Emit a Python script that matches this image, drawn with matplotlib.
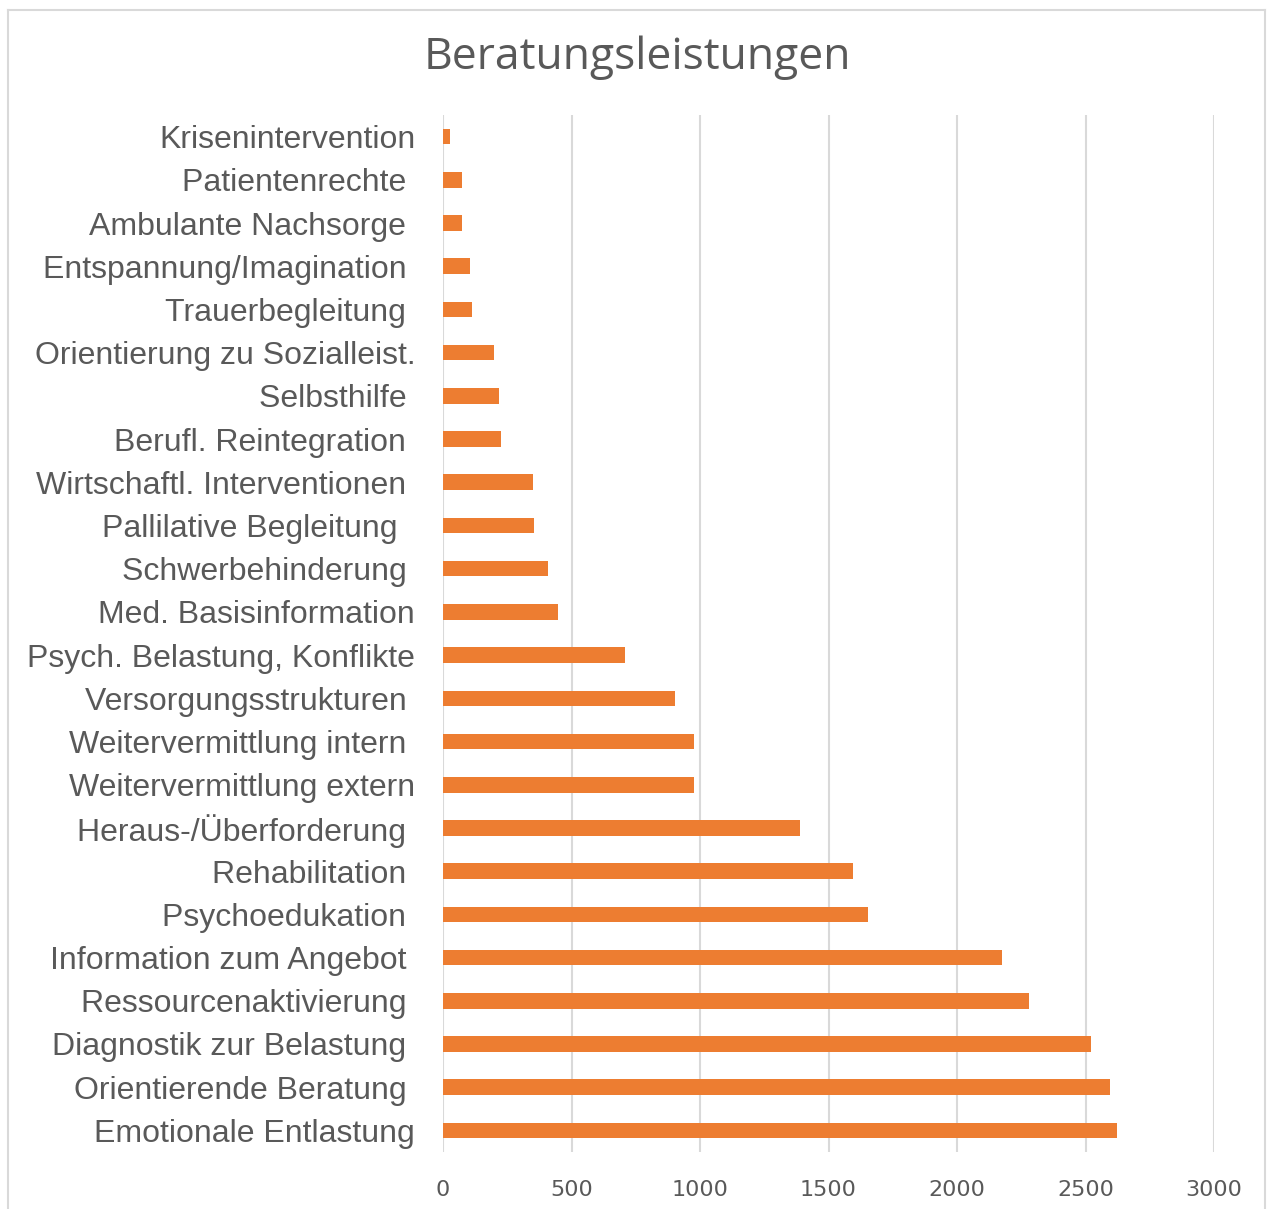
import matplotlib
matplotlib.use("Agg")
import matplotlib.pyplot as plt
from matplotlib.lines import Line2D

# categories top to bottom (trailing spaces mirror the source labels)
kategorien = ["Krisenintervention", "Patientenrechte ", "Ambulante Nachsorge ",
              "Entspannung/Imagination ", "Trauerbegleitung ", "Orientierung zu Sozialleist.",
              "Selbsthilfe ", "Berufl. Reintegration ", "Wirtschaftl. Interventionen ",
              "Pallilative Begleitung  ", "Schwerbehinderung ", "Med. Basisinformation",
              "Psych. Belastung, Konflikte", "Versorgungsstrukturen ",
              "Weitervermittlung intern ", "Weitervermittlung extern",
              "Heraus-/Überforderung ", "Rehabilitation ", "Psychoedukation ",
              "Information zum Angebot ", "Ressourcenaktivierung ", "Diagnostik zur Belastung ",
              "Orientierende Beratung ", "Emotionale Entlastung"]
anzahl = [28, 75, 75, 105, 112, 198, 218, 226, 350, 354, 410, 448,
          710, 903, 978, 978, 1388, 1596, 1654, 2177, 2279, 2520, 2597, 2621]
xticks = [0, 500, 1000, 1500, 2000, 2500, 3000]

orange = "#ED7D31"
grau = "#595959"
gitter = "#D9D9D9"

fig = plt.figure(figsize=(12.68, 12.09), dpi=100)
ax = fig.add_axes([443/1268, 1-1152/1209, (1214-443)/1268, (1152-115)/1209])

pos = list(range(len(kategorien)))
ax.barh(pos, anzahl, height=0.36, color=orange, zorder=3)
ax.set_ylim(len(kategorien)-0.5, -0.5)
ax.set_xlim(0, 3000)
ax.set_xticks(xticks)
ax.set_xticklabels([str(t) for t in xticks], family=["Liberation Sans Narrow", "DejaVu Sans"],
                   fontsize=16, color=grau)
ax.set_yticks(pos)
ax.set_yticklabels(kategorien, family=["Liberation Sans", "DejaVu Sans"], fontsize=23, color=grau)
ax.tick_params(axis="both", length=0)
ax.tick_params(axis="y", pad=20)
ax.tick_params(axis="x", pad=20)
ax.grid(axis="x", color=gitter, linewidth=1.5, zorder=0)
for s in ax.spines.values():
    s.set_visible(False)

fig.text(637/1268, 1-58/1209, "Beratungsleistungen", ha="center", va="center",
         family=["Open Sans", "DejaVu Sans"], fontsize=32, color=grau)

# outer frame of the chart area
for xs, ys in [([8, 8], [0, 1199]), ([8, 1265], [1199, 1199]), ([1265, 1265], [1199, 0])]:
    fig.add_artist(Line2D([x/1268 for x in xs], [y/1209 for y in ys], color=gitter, linewidth=1.5))

fig.savefig("out.png", dpi=100)
